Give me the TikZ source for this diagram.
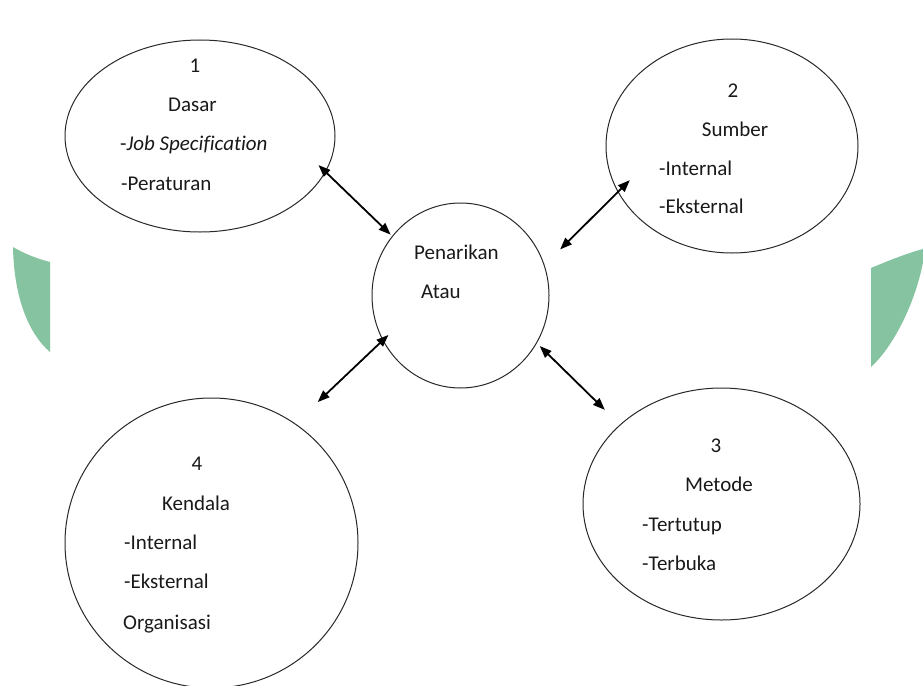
\documentclass[tikz,border=0pt]{standalone}
\usepackage{fontspec}
\setmainfont{Carlito}[Ligatures=NoCommon]
\usetikzlibrary{arrows.meta,shapes.geometric}
\definecolor{HijauLogo}{RGB}{134,195,160}
\definecolor{GarisGelap}{RGB}{40,40,40}
\definecolor{TeksGelap}{RGB}{25,25,25}
\tikzset{
  ovalbox/.style 2 args={ellipse, draw=GarisGelap, line width=1pt,
    minimum width=#1, minimum height=#2, inner sep=0pt},
  linkarr/.style={{Triangle[length=12pt, width=9pt]}-{Triangle[length=12pt, width=9pt]},
    line width=1.8pt, black},
  headtext/.style={anchor=base, inner sep=0pt, text=TeksGelap,
    font=\fontsize{21}{25}\selectfont},
  itemtext/.style={anchor=base west, inner sep=0pt, text=TeksGelap,
    font=\fontsize{21}{25}\selectfont},
}

\begin{document}
\begin{tikzpicture}[x=1pt, y=-1pt]
  \useasboundingbox (0,0) rectangle (923,685);
  % ---- sisa logo di latar ----
  \fill[HijauLogo] (13,247) .. controls (25,254) and (38,259) .. (50,262) -- (50,352)
    .. controls (30,335) and (14,300) .. (13,247) -- cycle;
  \fill[HijauLogo] (871,268) .. controls (890,260) and (908,253) .. (923,249) -- (923,262)
    .. controls (916,300) and (895,345) .. (871,367) -- cycle;
  % ---- lingkaran ----
  \node[ovalbox={270pt}{192pt}] (e1) at (200,136) {};
  \node[ovalbox={252pt}{214pt}] (e2) at (732,146) {};
  \node[ovalbox={177pt}{185pt}] (cen) at (460.5,295.5) {};
  \node[ovalbox={277pt}{232pt}] (e3) at (721.5,504) {};
  \node[ovalbox={293pt}{290pt}] (e4) at (211.5,543) {};
  % ---- teks ----
  \node[headtext] (e1num) at (195,72) {1};
  \node[headtext] (e1head) at (192.5,111) {Dasar};
  \node[itemtext] (e1a) at (120,150) {-\textit{Job Specification}};
  \node[itemtext] (e1b) at (121,190) {-Peraturan};
  \node[headtext] (e2num) at (733,97) {2};
  \node[headtext] (e2head) at (735,136) {Sumber};
  \node[itemtext] (e2a) at (659,175) {-Internal};
  \node[itemtext] (e2b) at (659,213) {-Eksternal};
  \node[itemtext] (cena) at (414,259) {Penarikan};
  \node[itemtext] (cenb) at (421,298) {Atau};
  \node[headtext] (e3num) at (716,452) {3};
  \node[headtext] (e3head) at (719,491) {Metode};
  \node[itemtext] (e3a) at (642,531) {-Tertutup};
  \node[itemtext] (e3b) at (642,570) {-Terbuka};
  \node[headtext] (e4num) at (197,470) {4};
  \node[headtext] (e4head) at (196,510) {Kendala};
  \node[itemtext] (e4a) at (124,549) {-Internal};
  \node[itemtext] (e4b) at (124,588) {-Eksternal};
  \node[itemtext] (e4c) at (123,629) {Organisasi};
  % ---- panah ----
  \draw[linkarr, shorten <=-10pt, shorten >=2pt] (e1.-16) -- (cen.139);
  \draw[linkarr, shorten <=-17pt, shorten >=22pt] (e2.-158) -- (cen.20);
  \draw[linkarr, shorten <=-8pt, shorten >=31pt] (cen.-150) -- (e4.55);
  \draw[linkarr, shorten <=4pt, shorten >=21pt] (cen.-32) -- (e3.142);
\end{tikzpicture}
\end{document}
